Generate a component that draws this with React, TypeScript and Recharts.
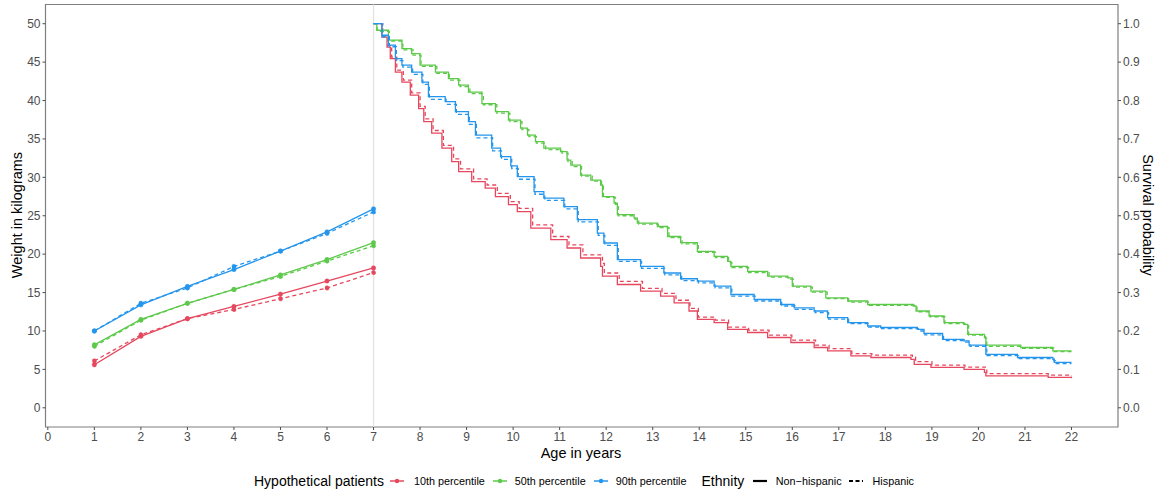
import React from 'react';
import { ComposedChart, Line, XAxis, YAxis, ReferenceLine, ReferenceArea } from 'recharts';

// growth part: weight in kg at ages 1-7
const growthAges = [1, 2, 3, 4, 5, 6, 7];
const w10NonHisp = [5.6, 9.3, 11.6, 13.2, 14.8, 16.5, 18.2];
const w10Hisp = [6.1, 9.5, 11.6, 12.8, 14.2, 15.6, 17.6];
const w50NonHisp = [8.2, 11.5, 13.6, 15.4, 17.3, 19.3, 21.5];
const w50Hisp = [8.0, 11.4, 13.6, 15.4, 17.1, 19.1, 21.1];
const w90NonHisp = [10.0, 13.4, 15.8, 18.0, 20.4, 22.9, 25.9];
const w90Hisp = [10.0, 13.6, 15.6, 18.4, 20.4, 22.7, 25.5];

// survival part: [age, probability] from age 7 onward
const s10NonHisp = [[7,1.0],[7.18,0.965],[7.29,0.939],[7.36,0.909],[7.47,0.874],[7.61,0.848],[7.79,0.814],[7.97,0.779],[8.08,0.745],[8.25,0.715],[8.47,0.676],[8.68,0.641],[8.83,0.615],[9.11,0.589],[9.4,0.572],[9.62,0.55],[9.9,0.529],[10.09,0.511],[10.38,0.468],[10.81,0.438],[11.16,0.416],[11.45,0.39],[11.88,0.368],[11.92,0.343],[12.24,0.321],[12.74,0.304],[13.17,0.291],[13.46,0.273],[13.78,0.252],[13.96,0.23],[14.32,0.222],[14.61,0.204],[15.04,0.196],[15.47,0.183],[15.97,0.17],[16.47,0.157],[16.76,0.148],[17.26,0.135],[17.69,0.131],[18.55,0.126],[18.62,0.113],[18.98,0.105],[19.69,0.1],[20.13,0.092],[20.16,0.083],[21.5,0.079],[22,0.077]];
const s10Hisp = [[7,1.0],[7.2,0.968],[7.31,0.943],[7.39,0.913],[7.5,0.879],[7.64,0.853],[7.82,0.82],[8.0,0.785],[8.11,0.752],[8.28,0.722],[8.5,0.683],[8.72,0.648],[8.87,0.622],[9.15,0.596],[9.44,0.58],[9.66,0.558],[9.94,0.537],[10.13,0.519],[10.42,0.476],[10.85,0.446],[11.2,0.424],[11.5,0.398],[11.92,0.376],[11.96,0.351],[12.28,0.329],[12.78,0.311],[13.2,0.298],[13.5,0.28],[13.8,0.259],[13.98,0.236],[14.35,0.228],[14.63,0.21],[15.06,0.202],[15.5,0.189],[15.99,0.176],[16.5,0.163],[16.79,0.154],[17.28,0.141],[17.71,0.137],[18.58,0.132],[18.65,0.12],[19.0,0.111],[19.71,0.106],[20.15,0.098],[20.18,0.089],[21.5,0.085],[22,0.082]];
const s50NonHisp = [[7,1.0],[7.07,0.983],[7.32,0.957],[7.61,0.935],[7.82,0.922],[8.0,0.892],[8.33,0.874],[8.61,0.857],[8.83,0.84],[9.04,0.822],[9.33,0.792],[9.62,0.771],[9.9,0.749],[10.16,0.728],[10.31,0.71],[10.48,0.693],[10.66,0.676],[11.02,0.667],[11.16,0.645],[11.24,0.632],[11.45,0.606],[11.67,0.593],[11.88,0.58],[11.92,0.55],[12.17,0.533],[12.24,0.503],[12.6,0.494],[12.67,0.481],[13.1,0.472],[13.32,0.446],[13.6,0.43],[13.96,0.407],[14.32,0.394],[14.61,0.381],[14.68,0.368],[15.04,0.355],[15.47,0.343],[15.9,0.338],[16.0,0.317],[16.4,0.304],[16.72,0.286],[17.19,0.278],[17.62,0.269],[18.6,0.265],[18.66,0.252],[18.94,0.239],[19.26,0.222],[19.69,0.217],[19.77,0.191],[20.13,0.183],[20.16,0.163],[20.91,0.157],[21.6,0.148],[22,0.148]];
const s50Hisp = [[7,1.0],[7.08,0.98],[7.34,0.955],[7.63,0.932],[7.85,0.918],[8.02,0.889],[8.36,0.871],[8.63,0.853],[8.86,0.836],[9.07,0.818],[9.36,0.789],[9.65,0.767],[9.93,0.745],[10.19,0.724],[10.34,0.706],[10.5,0.689],[10.7,0.672],[11.05,0.663],[11.18,0.641],[11.27,0.628],[11.47,0.603],[11.7,0.59],[11.9,0.577],[11.94,0.548],[12.2,0.53],[12.26,0.5],[12.62,0.491],[12.7,0.478],[13.12,0.469],[13.35,0.443],[13.63,0.427],[13.98,0.405],[14.35,0.391],[14.63,0.378],[14.7,0.365],[15.06,0.352],[15.5,0.34],[15.92,0.335],[16.02,0.314],[16.43,0.301],[16.75,0.284],[17.21,0.275],[17.65,0.267],[18.62,0.262],[18.68,0.25],[18.96,0.237],[19.28,0.219],[19.71,0.214],[19.79,0.189],[20.15,0.181],[20.18,0.16],[20.93,0.155],[21.62,0.146],[22,0.146]];
const s90NonHisp = [[7,1.0],[7.18,0.97],[7.32,0.944],[7.47,0.909],[7.61,0.892],[7.82,0.874],[8.04,0.848],[8.18,0.81],[8.54,0.797],[8.76,0.771],[9.04,0.745],[9.19,0.71],[9.54,0.676],[9.73,0.654],[9.95,0.63],[10.09,0.602],[10.45,0.563],[10.66,0.546],[11.09,0.524],[11.38,0.49],[11.81,0.455],[11.95,0.429],[12.24,0.386],[12.74,0.368],[13.24,0.351],[13.6,0.336],[13.96,0.33],[14.32,0.317],[14.68,0.295],[15.18,0.282],[15.75,0.269],[16.04,0.26],[16.47,0.252],[16.76,0.235],[17.19,0.222],[17.62,0.213],[17.9,0.209],[18.69,0.204],[18.83,0.194],[19.23,0.178],[19.69,0.174],[19.8,0.163],[20.16,0.139],[20.84,0.131],[21.6,0.126],[21.63,0.118],[22,0.118]];
const s90Hisp = [[7,1.0],[7.19,0.966],[7.34,0.94],[7.49,0.904],[7.63,0.887],[7.84,0.868],[8.06,0.842],[8.2,0.803],[8.56,0.79],[8.78,0.764],[9.06,0.738],[9.21,0.703],[9.56,0.669],[9.75,0.647],[9.97,0.623],[10.11,0.595],[10.47,0.556],[10.68,0.54],[11.11,0.518],[11.4,0.484],[11.83,0.449],[11.97,0.423],[12.26,0.381],[12.76,0.363],[13.26,0.346],[13.62,0.331],[13.98,0.325],[14.34,0.312],[14.7,0.291],[15.2,0.278],[15.77,0.265],[16.06,0.256],[16.49,0.248],[16.78,0.231],[17.21,0.219],[17.64,0.21],[17.92,0.206],[18.71,0.2],[18.85,0.19],[19.25,0.175],[19.71,0.171],[19.82,0.16],[20.18,0.136],[20.86,0.128],[21.62,0.123],[21.65,0.115],[22,0.115]];

const ageTicks = [0, 1, 2, 3, 4, 5, 6, 7, 8, 9, 10, 11, 12, 13, 14, 15, 16, 17, 18, 19, 20, 21, 22];
const weightTicks = [0, 5, 10, 15, 20, 25, 30, 35, 40, 45, 50];
const survTicks = [0, 0.1, 0.2, 0.3, 0.4, 0.5, 0.6, 0.7, 0.8, 0.9, 1.0];

const RED = '#E5485E';
const GREEN = '#5DC94B';
const BLUE = '#2495EC';
const GREY = '#4D4D4D';
const FONT = '"Liberation Sans", Arial, sans-serif';

const toGrowth = (w: number[]) => growthAges.map((age, i) => ({ age, w: w[i] }));
const toSurv = (s: number[][]) => s.map(([age, p]) => ({ age, p }));

const growthSeries = [
  { key: 'g10n', data: toGrowth(w10NonHisp), color: RED, dash: false },
  { key: 'g10h', data: toGrowth(w10Hisp), color: RED, dash: true },
  { key: 'g50n', data: toGrowth(w50NonHisp), color: GREEN, dash: false },
  { key: 'g50h', data: toGrowth(w50Hisp), color: GREEN, dash: true },
  { key: 'g90n', data: toGrowth(w90NonHisp), color: BLUE, dash: false },
  { key: 'g90h', data: toGrowth(w90Hisp), color: BLUE, dash: true },
];

const survSeries = [
  { key: 's10n', data: toSurv(s10NonHisp), color: RED, dash: false },
  { key: 's10h', data: toSurv(s10Hisp), color: RED, dash: true },
  { key: 's50n', data: toSurv(s50NonHisp), color: GREEN, dash: false },
  { key: 's50h', data: toSurv(s50Hisp), color: GREEN, dash: true },
  { key: 's90n', data: toSurv(s90NonHisp), color: BLUE, dash: false },
  { key: 's90h', data: toSurv(s90Hisp), color: BLUE, dash: true },
];

function KeyLine({ color, dash, dot, gapL = 7, gapR = 8.5 }: { color: string; dash?: boolean; dot?: boolean; gapL?: number; gapR?: number }) {
  return (
    <svg width={14} height={10} style={{ marginLeft: gapL, marginRight: gapR }}>
      <line x1={0} y1={5} x2={14} y2={5} stroke={color} strokeWidth={dot ? 1.5 : 2.2} strokeDasharray={dash ? '4 2.5' : undefined} />
      {dot && <circle cx={7} cy={5} r={2.2} fill={color} />}
    </svg>
  );
}

export default function App() {
  const tickStyle = { fill: GREY, fontSize: 12, fontFamily: FONT };
  const lab = { fontSize: 10.8 };
  return (
    <div style={{ position: 'absolute', left: 0, top: 0, width: 1166, height: 494, background: '#fff', fontFamily: FONT }}>
      <ComposedChart width={1166} height={494} margin={{ top: 4.5, right: 0, bottom: 0, left: 0 }}>
        <XAxis type="number" dataKey="age" domain={[-0.05, 23]} ticks={ageTicks} interval={0} allowDataOverflow
          height={67} axisLine={false} tickLine={{ stroke: GREY }} tickSize={3} tick={tickStyle} />
        <YAxis yAxisId="w" domain={[-2.5, 52.5]} ticks={weightTicks} interval={0} allowDataOverflow
          width={45.5} axisLine={false} tickLine={{ stroke: GREY }} tickSize={3} tick={tickStyle} />
        <YAxis yAxisId="s" orientation="right" domain={[-0.05, 1.05]} ticks={survTicks} interval={0} allowDataOverflow
          width={48} axisLine={false} tickLine={{ stroke: GREY }} tickSize={3} tick={tickStyle}
          tickFormatter={(v: number) => v.toFixed(1)} />
        <ReferenceLine yAxisId="w" x={7} stroke="#E3E3E3" strokeWidth={1.3} />
        {growthSeries.map((s) => (
          <Line key={s.key} yAxisId="w" data={s.data} dataKey="w" type="linear" stroke={s.color} strokeWidth={1.3}
            strokeDasharray={s.dash ? '4 3' : undefined} dot={{ r: 2.2, fill: s.color, stroke: s.color, strokeWidth: 0.5 }}
            isAnimationActive={false} />
        ))}
        {survSeries.map((s) => (
          <Line key={s.key} yAxisId="s" data={s.data} dataKey="p" type="stepAfter" stroke={s.color} strokeWidth={1.3}
            strokeDasharray={s.dash ? '4 3' : undefined} dot={false} isAnimationActive={false} />
        ))}
        <ReferenceArea yAxisId="w" x1={-0.05} x2={23} y1={-2.5} y2={52.5} fill="none" stroke="#7F7F7F" strokeWidth={1.2} />
      </ComposedChart>

      <div style={{ position: 'absolute', left: 17, top: 215, transform: 'translate(-50%, -50%) rotate(-90deg)', whiteSpace: 'nowrap', fontSize: 14.5 }}>
        Weight in kilograms
      </div>
      <div style={{ position: 'absolute', left: 1148, top: 215, transform: 'translate(-50%, -50%) rotate(90deg)', whiteSpace: 'nowrap', fontSize: 14.5 }}>
        Survival probability
      </div>
      <div style={{ position: 'absolute', left: 581, top: 453, transform: 'translate(-50%, -50%)', whiteSpace: 'nowrap', fontSize: 14.5 }}>
        Age in years
      </div>

      <div style={{ position: 'absolute', left: 254, top: 481, transform: 'translateY(-50%)', display: 'flex', alignItems: 'center', whiteSpace: 'nowrap' }}>
        <span style={{ fontSize: 14 }}>Hypothetical patients</span>
        <KeyLine color={RED} dot gapL={6} gapR={10} />
        <span style={lab}>10th percentile</span>
        <KeyLine color={GREEN} dot gapL={8} gapR={8} />
        <span style={lab}>50th percentile</span>
        <KeyLine color={BLUE} dot gapL={8} gapR={8} />
        <span style={lab}>90th percentile</span>
        <span style={{ fontSize: 14, marginLeft: 15 }}>Ethnity</span>
        <KeyLine color="#000" gapL={9} gapR={8.5} />
        <span style={lab}>Non−hispanic</span>
        <KeyLine color="#000" dash gapL={7} gapR={10} />
        <span style={lab}>Hispanic</span>
      </div>
    </div>
  );
}
